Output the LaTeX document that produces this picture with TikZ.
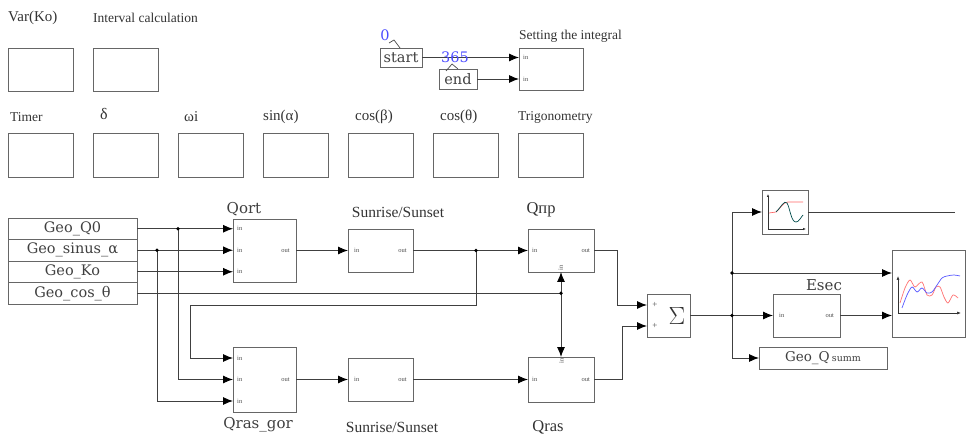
\documentclass[tikz,border=0pt]{standalone}
\usepackage{fontspec}
\setmainfont{Liberation Serif}
\newfontfamily\dvs{DejaVu Serif}
\usetikzlibrary{arrows.meta,calc}
\begin{document}
\begin{tikzpicture}[x=1pt,y=-1pt,
  blk/.style={draw=black!60, line width=0.9pt, fill=white, inner sep=0pt, outer sep=0pt, anchor=north west},
  wire/.style={draw=black!75, line width=0.9pt},
  arr/.style={wire, -{Latex[length=10pt,width=8pt,color=black]}},
  lbl/.style={font=\fontsize{13.5}{14}\selectfont, inner sep=0pt, text=black!80},
  blbl/.style={font=\fontsize{15.5}{16}\selectfont, inner sep=0pt, text=black!80},
  dlbl/.style={font=\dvs\fontsize{15}{16}\selectfont, inner sep=0pt, text=black!75},
  tfont/.style={font=\dvs\fontsize{14.5}{15}\selectfont, text=black!75},
  port/.style={font=\fontsize{6.5}{7}\selectfont, inner sep=0pt, text=black!70},
  num/.style={font=\dvs\fontsize{14.5}{15}\selectfont, inner sep=0pt, text=blue!70!white},
]
\useasboundingbox (0,0) rectangle (966,438);

% ---------- top rows of empty blocks ----------
\node[blk, minimum width=65, minimum height=43] (vk) at (8,48) {};
\node[blk, minimum width=65, minimum height=43] (ic) at (93,48) {};
\node[lbl, anchor=west, font=\fontsize{15}{16}\selectfont] (lvk) at (8,18) {Var(Ko)};
\node[lbl, anchor=west] (lic) at (93,18) {Interval calculation};

\node[blk, minimum width=65, minimum height=44] (tm) at (8,133) {};
\node[blk, minimum width=65, minimum height=44] (dl) at (93,133) {};
\node[blk, minimum width=65, minimum height=44] (wi) at (178,133) {};
\node[blk, minimum width=65, minimum height=44] (sa) at (263,133) {};
\node[blk, minimum width=65, minimum height=44] (cb) at (348,133) {};
\node[blk, minimum width=65, minimum height=44] (ct) at (433,133) {};
\node[blk, minimum width=65, minimum height=44] (tg) at (518,133) {};
\node[lbl, anchor=west] (ltm) at (10,117) {Timer};
\node[lbl, anchor=west, font=\fontsize{16}{17}\selectfont] (ldl) at (100,114) {δ};
\node[lbl, anchor=west, font=\fontsize{15}{16}\selectfont] (lwi) at (184,117) {ωi};
\node[lbl, anchor=west, font=\fontsize{15}{16}\selectfont] (lsa) at (263,117) {sin(α)};
\node[lbl, anchor=west, font=\fontsize{15}{16}\selectfont] (lcb) at (355,117) {cos(β)};
\node[lbl, anchor=west, font=\fontsize{15}{16}\selectfont] (lct) at (440,117) {cos(θ)};
\node[lbl, anchor=west] (ltg) at (518,117) {Trigonometry};

% ---------- integral limits ----------
\node[blk, minimum width=42, minimum height=19, tfont] (st) at (380,48) {start};
\node[blk, minimum width=38, minimum height=20, tfont] (en) at (439,69) {end};
\node[blk, minimum width=64, minimum height=42] (si) at (519,48) {};
\node[lbl, anchor=west] (lsi) at (519,36) {Setting the integral};
\draw[arr] (st.east) -- (st.east -| si.west);
\draw[arr] (en.east) -- (en.east -| si.west);
\node[port, anchor=west] (psi1) at ($(si.west |- st.east)+(4,0)$) {in};
\node[port, anchor=west] (psi2) at ($(si.west |- en.east)+(4,0)$) {in};
\node[num] (n0) at (385,35) {0};
\node[num] (n365) at (455,57) {365};
\draw[black!70, line width=0.7pt] (389,43) -- (394,40) -- (400,48);
\draw[black!70, line width=0.7pt] (446,71) -- (452,64) -- (458,69);

% ---------- source table ----------
\node[blk, minimum width=129, minimum height=21.5, tfont] (r1) at (8,218) {Geo\_Q0};
\node[blk, minimum width=129, minimum height=21.5, tfont] (r2) at (8,239.5) {Geo\_sinus\_α};
\node[blk, minimum width=129, minimum height=21.5, tfont] (r3) at (8,261) {Geo\_Ko};
\node[blk, minimum width=129, minimum height=21.5, tfont] (r4) at (8,282.5) {Geo\_cos\_θ};

% ---------- main blocks ----------
\node[blk, minimum width=63, minimum height=63] (qo) at (233,219) {};
\node[blk, minimum width=65, minimum height=43] (ss1) at (348,229) {};
\node[blk, minimum width=66, minimum height=43] (qp) at (528,229) {};
\node[blk, minimum width=63, minimum height=65] (qg) at (233,347) {};
\node[blk, minimum width=65, minimum height=43] (ss2) at (348,358) {};
\node[blk, minimum width=66, minimum height=45] (qr) at (528,357) {};
\node[blk, minimum width=43, minimum height=43] (sg) at (647,294) {};
\node[blk, minimum width=67, minimum height=43] (es) at (773,294) {};
\node[blk, minimum width=46, minimum height=44] (sc) at (762,190) {};
\node[blk, minimum width=73, minimum height=87] (bs) at (892,250) {};
\node[blk, minimum width=128, minimum height=22, tfont, font=\dvs\fontsize{13.5}{14}\selectfont] (gq) at (759,347) {Geo\_Q\,{\fontsize{9.5}{10}\selectfont summ}};

\node[dlbl] (lqo) at (244,209) {Qort};
\node[blbl] (lss1) at (398,212) {Sunrise/Sunset};
\node[blbl, font=\fontsize{16.5}{17}\selectfont] (lqp) at (541,210) {Qпр};
\node[dlbl] (lqg) at (258,425) {Qras\_gor};
\node[blbl] (lss2) at (392,427) {Sunrise/Sunset};
\node[blbl, font=\fontsize{16.5}{17}\selectfont] (lqr) at (548,427) {Qras};
\node[dlbl] (les) at (824,285) {Esec};

% sum block contents
\node[inner sep=0pt, font=\fontsize{27}{27}\selectfont, text=black!80] (sig) at (677,316) {$\Sigma$};
\node[port, font=\fontsize{9}{9}\selectfont] (pl1) at (655,305) {+};
\node[port, font=\fontsize{9}{9}\selectfont] (pl2) at (655,326) {+};

% port coordinates
\coordinate (qgi1) at ($(qg.west)+(0,-21.5)$);
\coordinate (qgi2) at (qg.west);
\coordinate (qgi3) at ($(qg.west)+(0,21.5)$);
\coordinate (sgi1) at ($(sg.west)+(0,-10.5)$);
\coordinate (sgi2) at ($(sg.west)+(0,10.5)$);

% port labels
\node[port, anchor=west] (pq1) at ($(qo.west |- r1.east)+(4,0)$) {in};
\node[port, anchor=west] (pq2) at ($(qo.west |- r2.east)+(4,0)$) {in};
\node[port, anchor=west] (pq3) at ($(qo.west |- r3.east)+(4,0)$) {in};
\node[port, anchor=east] (pq4) at ($(qo.east)+(-6,0)$) {out};
\node[port, anchor=west] (pg1) at ($(qgi1)+(4,0)$) {in};
\node[port, anchor=west] (pg2) at ($(qgi2)+(4,0)$) {in};
\node[port, anchor=west] (pg3) at ($(qgi3)+(4,0)$) {in};
\node[port, anchor=east] (pg4) at ($(qg.east)+(-6,0)$) {out};
\node[port, anchor=west] (ps1) at ($(ss1.west)+(6,0)$) {in};
\node[port, anchor=east] (ps2) at ($(ss1.east)+(-6,0)$) {out};
\node[port, anchor=west] (ps3) at ($(ss2.west)+(6,0)$) {in};
\node[port, anchor=east] (ps4) at ($(ss2.east)+(-6,0)$) {out};
\node[port, anchor=west] (pp1) at ($(qp.west)+(4,0)$) {in};
\node[port, anchor=east] (pp2) at ($(qp.east)+(-4,0)$) {out};
\node[port, anchor=south, rotate=90] (pp3) at ($(qp.south)+(2,-4)$) {in};
\node[port, anchor=west] (pr1) at ($(qr.west)+(4,0)$) {in};
\node[port, anchor=east] (pr2) at ($(qr.east)+(-4,0)$) {out};
\node[port, anchor=north, rotate=90] (pr3) at ($(qr.north)+(-2,4)$) {in};
\node[port, anchor=west] (pe1) at ($(es.west)+(6,0)$) {in};
\node[port, anchor=east] (pe2) at ($(es.east)+(-6,0)$) {out};

% ---------- connectors ----------
\draw[arr] (r1.east) -- (r1.east -| qo.west);
\draw[arr] (r2.east) -- (r2.east -| qo.west);
\draw[arr] (r3.east) -- (r3.east -| qo.west);
\coordinate (j1) at (178,0 |- r1.east);
\coordinate (j2) at (157,0 |- r2.east);
\draw[arr] (j1) |- (qgi2);
\draw[arr] (j2) |- (qgi3);
\coordinate (j3) at (qp.south |- r4.east);
\draw[wire] (r4.east) -- (j3);
\draw[arr] (j3) -- (qp.south);
\draw[arr] (j3) -- (qr.north);

\draw[arr] (qo.east) -- (ss1.west);
\draw[arr] (ss1.east) -- (qp.west);
\coordinate (j4) at (476,0 |- ss1.east);
\coordinate (lp1) at (476,305);
\coordinate (lp2) at (190,305);
\draw[arr] (j4) -- (lp1) -- (lp2) |- (qgi1);

\draw[arr] (qg.east) -- (ss2.west);
\draw[arr] (ss2.east) -- (qr.west);

\coordinate (k1) at (617,0 |- qp.east);
\coordinate (k2) at (622,0 |- qr.east);
\draw[arr] (qp.east) -- (k1) |- (sgi1);
\draw[arr] (qr.east) -- (k2) |- (sgi2);

\coordinate (b2) at (732,0 |- sg.east);
\coordinate (b1) at (732,273);
\draw[wire] (sg.east) -- (b2);
\draw[arr] (b2) |- (sc.west);
\draw[arr] (b2) |- (gq.west);
\draw[arr] (b2) -- (es.west);
\draw[arr] (b1) -- (b1 -| bs.west);
\draw[arr] (es.east) -- (es.east -| bs.west);
\coordinate (sce) at (955,0 |- sc.east);
\draw[wire] (sc.east) -- (sce);

\foreach \p in {j1,j2,j3,j4,b1,b2} \fill[black] (\p) circle (1.8);

% ---------- scope pictures ----------
\draw[black!80, line width=0.6pt, -{Latex[length=3pt,width=2.5pt]}] (768,229) -- (768,194);
\draw[black!80, line width=0.6pt, -{Latex[length=3pt,width=2.5pt]}] (768,229) -- (806,229);
\draw[red!60, line width=0.7pt] (769,213) -- (776,212) .. controls (781,208) and (783,202) .. (788,202) -- (803,202);
\draw[teal!60!black, line width=0.7pt] (776,212) .. controls (782,206) and (784,200) .. (787,203) .. controls (790,208) and (791,222) .. (796,222) .. controls (799,222) and (801,217) .. (803,215);

\draw[black!80, line width=0.6pt, -{Latex[length=4pt,width=3pt]}] (898,313) -- (898,276);
\draw[black!80, line width=0.6pt, -{Latex[length=4pt,width=3pt]}] (898,313) -- (961,313);
\draw[red!55, line width=0.7pt] plot[smooth] coordinates {(900,303) (905,288) (910,280) (915,287) (922,282) (927,295) (932,295) (936,287) (940,287) (944,297) (948,303) (953,295) (958,298)};
\draw[blue!65, line width=0.7pt] plot[smooth] coordinates {(902,308) (907,295) (912,287) (917,292) (922,288) (927,293) (932,292) (937,285) (942,278) (947,276) (954,275) (960,276)};
\end{tikzpicture}
\end{document}
